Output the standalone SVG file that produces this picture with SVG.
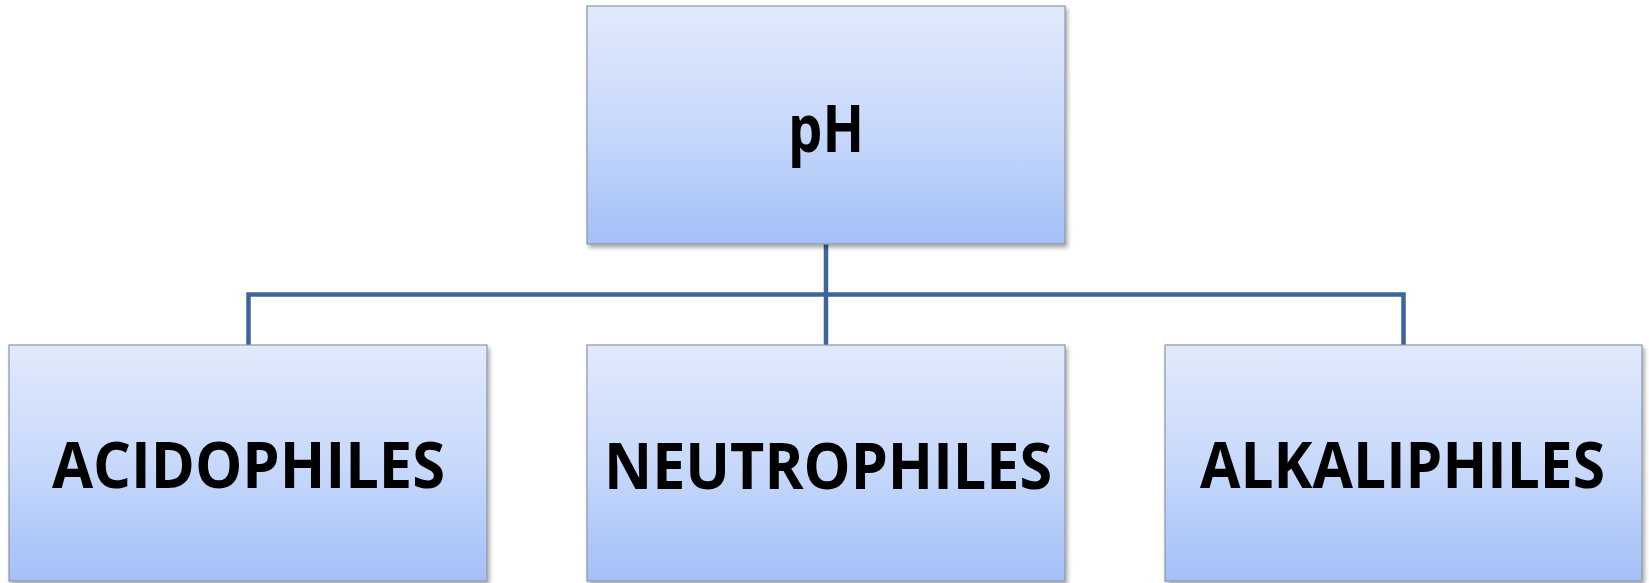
<svg xmlns="http://www.w3.org/2000/svg" width="1649" height="583" viewBox="0 0 1649 583">
  <defs>
    <linearGradient id="boxFill" x1="0" y1="0" x2="0" y2="1">
      <stop offset="0" stop-color="#e1eafc"/>
      <stop offset="0.5" stop-color="#c8d9fb"/>
      <stop offset="1" stop-color="#a3c0f7"/>
    </linearGradient>
    <filter id="shadow" x="-5%" y="-5%" width="112%" height="115%">
      <feGaussianBlur in="SourceAlpha" stdDeviation="2"/>
      <feOffset dx="2" dy="3" result="b"/>
      <feComponentTransfer><feFuncA type="linear" slope="0.35"/></feComponentTransfer>
      <feMerge><feMergeNode/><feMergeNode in="SourceGraphic"/></feMerge>
    </filter>
  </defs>
  <style>
    .box { fill: url(#boxFill); stroke: #8c96a3; stroke-width: 1.2; filter: url(#shadow); }
    .label { font-family: "Open Sans", "Liberation Sans", sans-serif; font-weight: bold; fill: #000; text-anchor: middle; }
    .link { fill: none; stroke: #3e659b; stroke-width: 4.5; }
  </style>
  <rect width="1649" height="583" fill="#ffffff"/>

  <!-- connectors -->
  <g id="connectors">
    <path class="link" d="M826 244 V294.5"/>
    <path class="link" d="M248.5 345 V294.5 H1403.5 V345"/>
    <path class="link" d="M826 294.5 V345"/>
  </g>

  <g id="node-ph">
    <rect class="box" x="587" y="6" width="478" height="238"/>
    <text class="label" x="826" y="152" font-size="67" textLength="76" lengthAdjust="spacingAndGlyphs">pH</text>
  </g>

  <g id="node-acidophiles">
    <rect class="box" x="9" y="345" width="478" height="236"/>
    <text class="label" x="248.5" y="488" font-size="64" textLength="393" lengthAdjust="spacingAndGlyphs">ACIDOPHILES</text>
  </g>

  <g id="node-neutrophiles">
    <rect class="box" x="587" y="345" width="478" height="236"/>
    <text class="label" x="828" y="489" font-size="64" textLength="448" lengthAdjust="spacingAndGlyphs">NEUTROPHILES</text>
  </g>

  <g id="node-alkaliphiles">
    <rect class="box" x="1165" y="345" width="477" height="236"/>
    <text class="label" x="1402.5" y="488" font-size="64" textLength="405" lengthAdjust="spacingAndGlyphs">ALKALIPHILES</text>
  </g>
</svg>
